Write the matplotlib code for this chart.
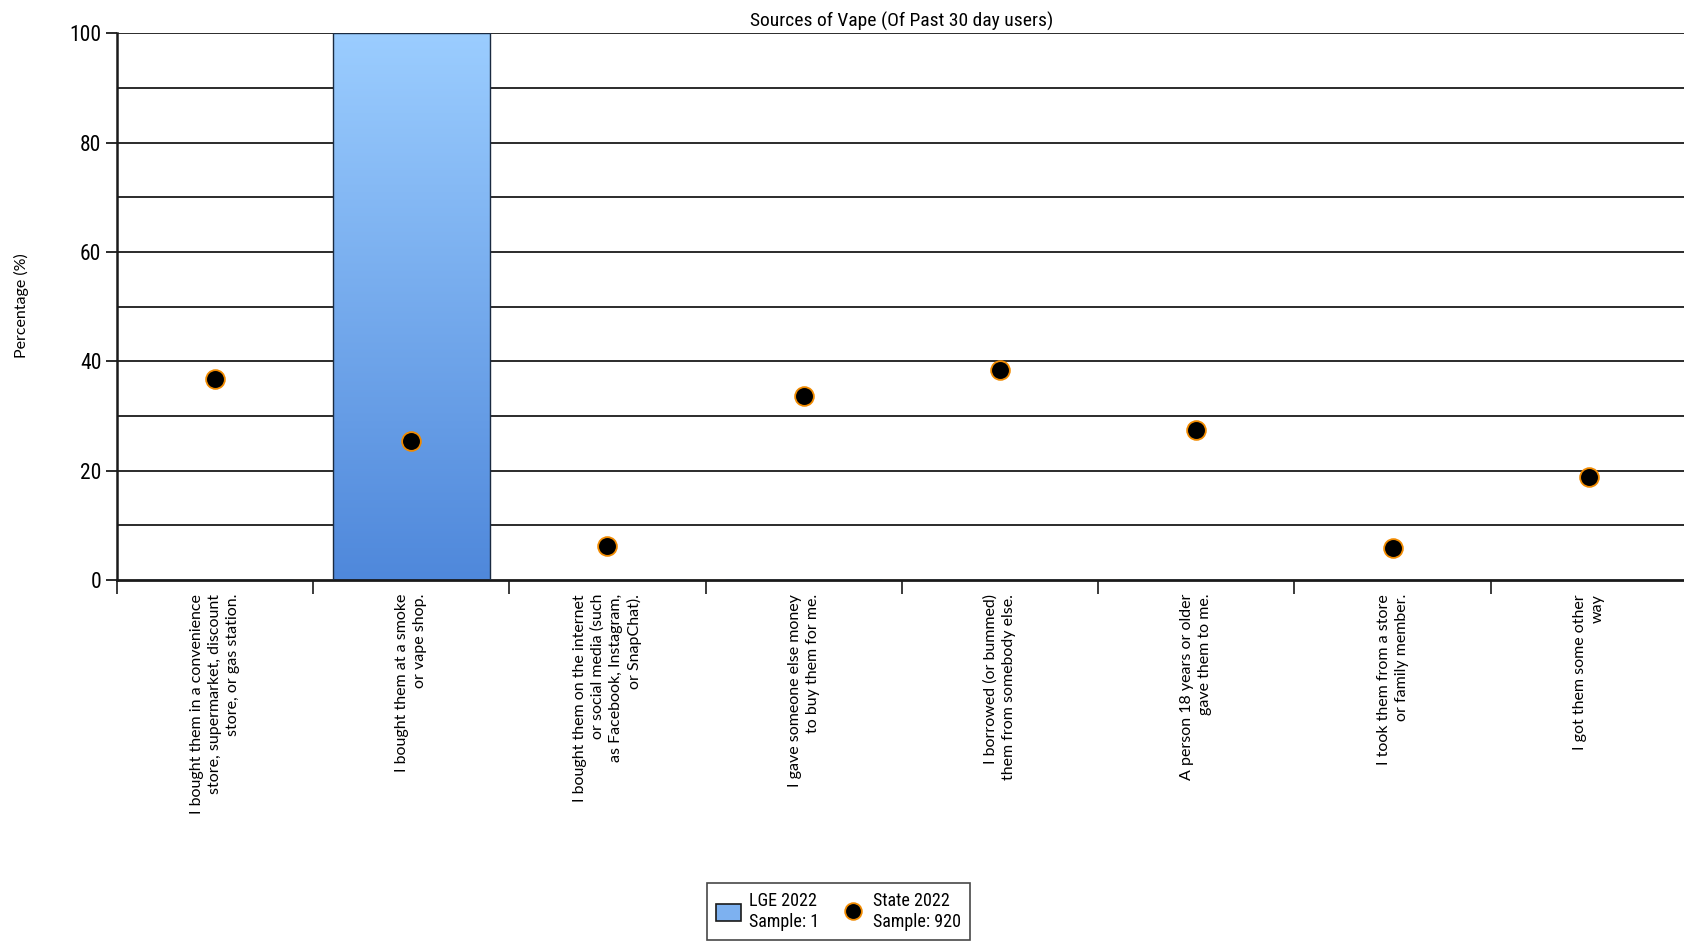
import numpy as np
import matplotlib
matplotlib.use("Agg")
import matplotlib.pyplot as plt
from matplotlib import font_manager
from matplotlib.patches import Patch
from matplotlib.lines import Line2D
from matplotlib.colors import LinearSegmentedColormap

categories = [
    "I bought them in a convenience\nstore, supermarket, discount\nstore, or gas station.",
    "I bought them at a smoke\nor vape shop.",
    "I bought them on the internet\nor social media (such\nas Facebook, Instagram,\nor SnapChat).",
    "I gave someone else money\nto buy them for me.",
    "I borrowed (or bummed)\nthem from somebody else.",
    "A person 18 years or older\ngave them to me.",
    "I took them from a store\nor family member.",
    "I got them some other\nway",
]
lge_2022 = [0, 100, 0, 0, 0, 0, 0, 0]
state_2022 = [36.8, 25.4, 6.3, 33.7, 38.4, 27.5, 5.8, 18.9]
y_major = [0, 20, 40, 60, 80, 100]
title = "Sources of Vape (Of Past 30 day users)"
ylabel = "Percentage (%)"
legend_labels = ["LGE 2022\nSample: 1", "State 2022\nSample: 920"]

fonts = font_manager.fontManager.ttflist
names = {f.name for f in fonts}
cond_kw = {}
cond_candidates = [n for n in ["Liberation Sans Narrow", "Roboto Condensed", "Open Sans Condensed",
                               "DejaVu Sans Condensed", "Noto Sans Condensed"] if n in names]
if cond_candidates:
    cond_kw = {"fontfamily": cond_candidates[0]}
else:
    cond_fonts = [f for f in fonts if str(f.stretch) in ("condensed", "semi-condensed", "extra-condensed")]
    if cond_fonts:
        cond_kw = {"fontfamily": cond_fonts[0].name, "fontstretch": cond_fonts[0].stretch}
    else:
        cond_kw = {"fontfamily": "Roboto"}
labfont = "Lato" if "Lato" in names else "DejaVu Sans"

W, H = 1684, 941
fig = plt.figure(figsize=(W / 100, H / 100), dpi=100)
left, right, top, bottom = 116.7, 1687, 33.3, 580
ax = fig.add_axes([left / W, 1 - bottom / H, (right - left) / W, (bottom - top) / H])

x = np.arange(len(categories))

for v in range(10, 101, 10):
    ax.axhline(v, color="#1a1a1a", lw=1.3, zorder=1)

bars = ax.bar(x, lge_2022, width=0.8, facecolor="none", edgecolor="#1a2a40", lw=1.0, zorder=3)
grad = np.linspace(0, 1, 256).reshape(-1, 1)
cmap = LinearSegmentedColormap.from_list("g", ["#4f88db", "#9bcdff"])
for b in bars:
    h = b.get_height()
    if h > 0:
        im = ax.imshow(grad, cmap=cmap, aspect="auto", origin="lower",
                       extent=[b.get_x(), b.get_x() + b.get_width(), 0, h], zorder=2)
        im.set_clip_path(b)
ax.set_xlim(-0.5, len(categories) - 0.5)
ax.set_ylim(0, 100)

ax.plot(x, state_2022, ls="none", marker="o", ms=13.5, mfc="black", mec="#f08a00", mew=1.3, zorder=5)

ax.set_yticks(y_major)
ax.set_yticklabels([str(v) for v in y_major], fontsize=15.5, **cond_kw)
ax.tick_params(axis="y", length=8, width=1.3, color="#1a1a1a", pad=3)
ax.set_xticks(np.arange(len(categories) + 1) - 0.5, minor=False)
ax.set_xticklabels([])
ax.tick_params(axis="x", length=10, width=1.2, color="#1a1a1a")
ax.set_xticks(x, minor=True)
ax.set_xticklabels(categories, minor=True, rotation=90, ha="center", va="top",
                   multialignment="right", fontfamily=labfont, fontsize=11.5, linespacing=1.36)
ax.tick_params(axis="x", which="minor", length=0, pad=10)

for s in ["top", "right"]:
    ax.spines[s].set_visible(False)
ax.spines["left"].set_linewidth(1.8)
ax.spines["bottom"].set_linewidth(2.0)
ax.spines["left"].set_color("#1a1a1a")
ax.spines["bottom"].set_color("#1a1a1a")

ax.set_title(title, fontsize=14, pad=5, **cond_kw)
fig.text(21 / W, 1 - 306 / H, ylabel, rotation=90, ha="center", va="center",
         fontfamily=labfont, fontsize=11.5)

handles = [Patch(facecolor="#7db1f0", edgecolor="#1a1a1a", lw=1.2),
           Line2D([], [], ls="none", marker="o", ms=12, mfc="black", mec="#f08a00", mew=1.3)]
prop = {"size": 13}
prop["family"] = cond_kw["fontfamily"]
if "fontstretch" in cond_kw:
    prop["stretch"] = cond_kw["fontstretch"]
leg = fig.legend(handles, legend_labels, loc="upper left",
                 bbox_to_anchor=(707 / W, 1 - 883 / H), ncol=2, frameon=True, fancybox=False,
                 edgecolor="#1a1a1a", prop=prop, borderaxespad=0,
                 handlelength=1.4, handleheight=1.1, columnspacing=1.2, handletextpad=0.4,
                 borderpad=0.5, labelspacing=0.2)
leg.get_frame().set_linewidth(1.2)

fig.savefig("out.png", dpi=100)
